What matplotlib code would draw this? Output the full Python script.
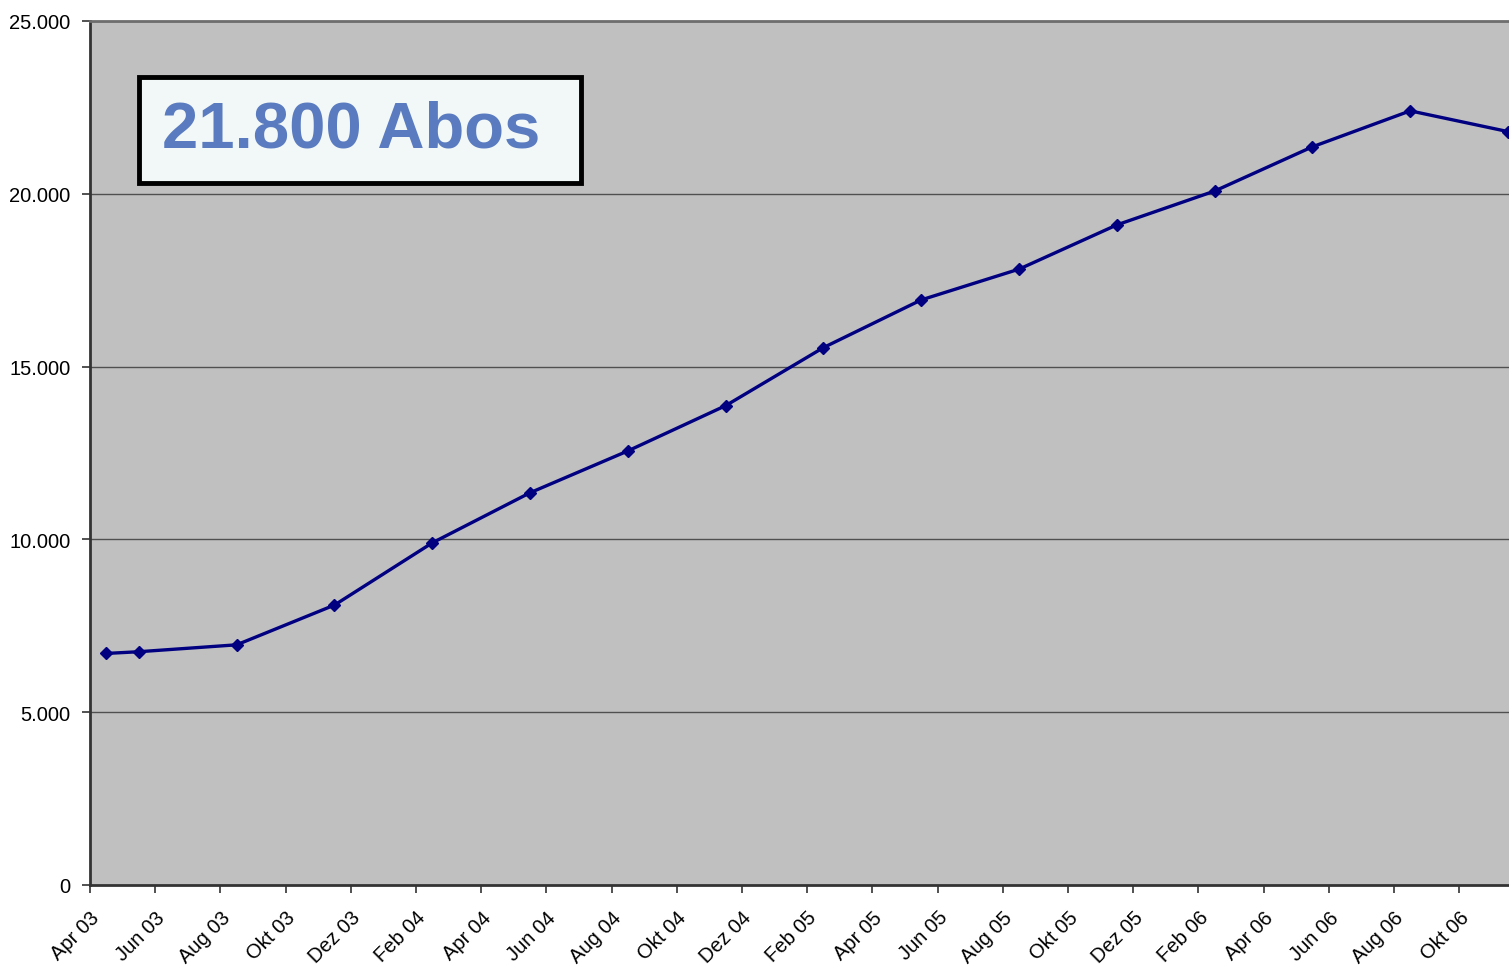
import numpy as np
import matplotlib.pyplot as plt

# months counted from Apr 03; readings taken mid-month
months = [0.5, 1.5, 4.5, 7.5, 10.5, 13.5, 16.5, 19.5, 22.5, 25.5, 28.5, 31.5, 34.5, 37.5, 40.5, 43.5]
abos = [6700, 6750, 6950, 8100, 9900, 11350, 12560, 13870, 15550, 16930, 17820, 19100, 20080, 21360, 22400, 21800]

tick_labels = ["Apr 03", "Jun 03", "Aug 03", "Okt 03", "Dez 03", "Feb 04", "Apr 04", "Jun 04",
               "Aug 04", "Okt 04", "Dez 04", "Feb 05", "Apr 05", "Jun 05", "Aug 05", "Okt 05",
               "Dez 05", "Feb 06", "Apr 06", "Jun 06", "Aug 06", "Okt 06"]
y_ticks = [0, 5000, 10000, 15000, 20000, 25000]

plt.rcParams['font.family'] = ['Liberation Sans', 'DejaVu Sans']

fig = plt.figure(figsize=(15.09, 9.70), dpi=100)
ax = fig.add_axes([90/1509, 1-886/970, 1-90/1509, (886-22)/970])
ax.set_facecolor('#c0c0c0')

for v in y_ticks[1:]:
    ax.axhline(v, color='#505050', lw=1, zorder=1)

ax.plot(months, abos, color='#000080', lw=2.4, marker='D', markersize=6.5, zorder=3)

ax.set_xlim(0, 43.53)
ax.set_ylim(0, 25000)
ax.set_xticks(np.arange(0, 44, 2))
ax.set_xticklabels(tick_labels, rotation=45, ha='right', rotation_mode='anchor')
ax.set_yticks(y_ticks)
ax.set_yticklabels([f"{v:,}".replace(",", ".") for v in y_ticks])
ax.tick_params(axis='both', labelsize=14.5, length=6, width=1.2, colors='#333333', labelcolor='black')
ax.tick_params(axis='x', pad=10)
ax.tick_params(axis='y', pad=8)

ax.spines['left'].set_color('#333333')
ax.spines['left'].set_linewidth(2)
ax.spines['bottom'].set_color('#333333')
ax.spines['bottom'].set_linewidth(2)
ax.spines['top'].set_color('#6e6e6e')
ax.spines['top'].set_linewidth(2)
ax.spines['right'].set_visible(False)

ax.text(0.0507, 0.874, "21.800 Abos ", transform=ax.transAxes, fontsize=47, fontweight='bold',
        color='#5a7bbf', va='center', ha='left',
        bbox=dict(boxstyle='square,pad=0.35', facecolor='#f2f8f8', edgecolor='black', linewidth=3.5))

fig.savefig("out.png", dpi=100)
